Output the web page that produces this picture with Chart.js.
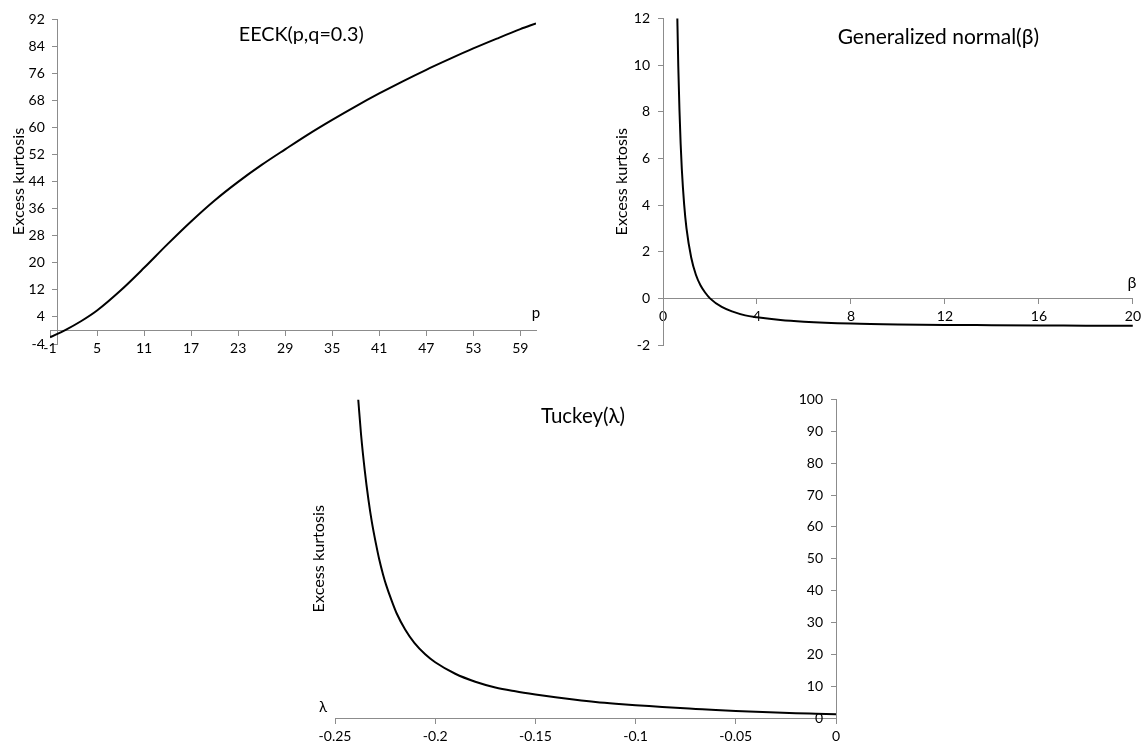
<!DOCTYPE html>
<html><head><meta charset="utf-8">
<script src="https://cdn.jsdelivr.net/npm/chart.js@4"></script>
<style>
html,body{margin:0;padding:0;background:#fff;}
#wrap{position:relative;width:1146px;height:742px;overflow:hidden;background:#fff;}
canvas{position:absolute;left:0;top:0;}
</style></head><body>
<div id="wrap">
<canvas id="c1" width="1146" height="742"></canvas>
<canvas id="c2" width="1146" height="742"></canvas>
<canvas id="c3" width="1146" height="742"></canvas>
</div>
<script>
// ---- EECK(p, q=0.3) ----
const eeckP = [-1, 1, 3, 5, 8, 11, 14, 17, 20, 23, 26, 29, 32, 35, 38, 41, 44, 47, 50, 53, 56, 59, 61];
const eeckKurtosis = [-2.0, 0.2, 2.8, 5.9, 11.8, 18.5, 25.5, 32.2, 38.4, 43.9, 48.9, 53.5, 58.0, 62.2, 66.2, 70.0, 73.6, 77.0, 80.2, 83.3, 86.2, 89.0, 90.7];
const eeckXTicks = [-1, 5, 11, 17, 23, 29, 35, 41, 47, 53, 59];
const eeckYTicks = [-4, 4, 12, 20, 28, 36, 44, 52, 60, 68, 76, 84, 92];

// ---- Generalized normal(beta) ----
const gnBeta = [0.6, 0.65, 0.7, 0.75, 0.8, 0.9, 1.0, 1.2, 1.4, 1.6, 1.8, 2.0, 2.5, 3, 3.5, 4, 5, 6, 8, 10, 12, 14, 16, 18, 20];
const gnKurtosis = [12.57, 9.96, 8.10, 6.65, 5.56, 4.03, 3.0, 1.75, 1.01, 0.55, 0.24, 0, -0.37, -0.58, -0.73, -0.81, -0.93, -1.0, -1.08, -1.12, -1.14, -1.15, -1.16, -1.17, -1.175];
const gnXTicks = [0, 4, 8, 12, 16, 20];
const gnYTicks = [-2, 0, 2, 4, 6, 8, 10, 12];

// ---- Tuckey(lambda) ----
const tukeyLambda = [-0.2384, -0.237, -0.2352, -0.2333, -0.2316, -0.2295, -0.228, -0.226, -0.2245, -0.222, -0.2192, -0.215, -0.2103, -0.205, -0.2, -0.19, -0.18, -0.17, -0.16, -0.15, -0.14, -0.13, -0.12, -0.11, -0.10, -0.09, -0.08, -0.07, -0.06, -0.05, -0.04, -0.03, -0.02, -0.01, 0];
const tukeyKurtosis = [100, 89, 78, 68.5, 61.5, 54.5, 50, 45, 41.8, 37.3, 32.8, 27.8, 23.5, 20.0, 17.5, 13.9, 11.4, 9.6, 8.4, 7.4, 6.5, 5.7, 5.0, 4.45, 4.0, 3.6, 3.2, 2.85, 2.5, 2.2, 1.95, 1.7, 1.5, 1.35, 1.2];
const tukeyXTicks = [-0.25, -0.2, -0.15, -0.1, -0.05, 0];
const tukeyXTickLabels = ['-0.25', '-0.2', '-0.15', '-0.1', '-0.05', '0'];
const tukeyYTicks = [0, 10, 20, 30, 40, 50, 60, 70, 80, 90, 100];

const FONT = 'Lato, "DejaVu Sans", sans-serif';
const AXIS = '#8c8c8c';
const Y_LABEL_GAP = 13;
Chart.defaults.font.family = FONT;
Chart.defaults.color = '#000';

function pts(xs, ys) { return xs.map((x, i) => ({x: x, y: ys[i]})); }
function setTicks(list) { return (scale) => { scale.ticks = list.map(v => ({value: v})); }; }

// move the y-axis tick labels (drawn by the scale) to the left of the axis line
const shiftYLabels = {
  id: 'shiftYLabels',
  beforeDraw(chart) {
    const s = chart.scales.y;
    if (!s || typeof s.getLabelItems !== 'function') return;
    const items = s.getLabelItems();
    if (items._shifted) return;
    items.forEach(it => { it.options.translation[0] -= Y_LABEL_GAP; });
    items._shifted = true;
  }
};

function annot(items) {
  return {
    id: 'annot',
    afterDraw(chart) {
      const {ctx, chartArea: a, scales} = chart;
      for (const it of items) {
        ctx.save();
        ctx.font = it.size + 'px ' + FONT;
        ctx.fillStyle = '#000';
        ctx.textAlign = 'center';
        ctx.textBaseline = 'middle';
        const p = it.at(a, scales);
        ctx.translate(p[0], p[1]);
        if (it.rot) ctx.rotate(-Math.PI / 2);
        ctx.fillText(it.text, 0, 0);
        ctx.restore();
      }
    }
  };
}

function makeChart(id, data, xr, yr, xTicks, yTicks, pad, xLabel, notes) {
  return new Chart(document.getElementById(id), {
    type: 'line',
    data: { datasets: [{ data: data, borderColor: '#000', borderWidth: 2, pointRadius: 0,
      cubicInterpolationMode: 'monotone', fill: false }] },
    options: {
      responsive: false, animation: false, devicePixelRatio: 1,
      layout: { padding: pad },
      plugins: { legend: { display: false }, tooltip: { enabled: false }, title: { display: false } },
      scales: {
        x: {
          type: 'linear', min: xr[0], max: xr[1], position: {y: 0},
          afterBuildTicks: setTicks(xTicks),
          grid: { display: true, drawOnChartArea: false, drawTicks: true, tickLength: 5, tickColor: AXIS },
          border: { display: true, color: AXIS, width: 1 },
          ticks: { font: { size: 14 }, color: '#000', padding: 5, maxRotation: 0, autoSkip: false,
            callback: xLabel || ((v) => String(v)) }
        },
        y: {
          type: 'linear', min: yr[0], max: yr[1], position: {x: 0},
          afterBuildTicks: setTicks(yTicks),
          grid: { display: true, drawOnChartArea: false, drawTicks: true, tickLength: 5, tickColor: AXIS },
          border: { display: true, color: AXIS, width: 1 },
          ticks: { font: { size: 14 }, color: '#000', padding: 8, autoSkip: false,
            callback: (v) => String(v) }
        }
      }
    },
    plugins: [shiftYLabels, annot(notes)]
  });
}

// EECK
makeChart('c1', pts(eeckP, eeckKurtosis), [-1, 61], [-4, 92], eeckXTicks, eeckYTicks,
  {left: 50, top: 19, right: 1146 - 536, bottom: 742 - 344}, null, [
  {text: 'EECK(p,q=0.3)', size: 19.8, at: (a) => [a.left + 0.517 * (a.right - a.left), a.top + 16]},
  {text: 'p', size: 15, at: (a, s) => [a.right, s.y.getPixelForValue(0) - 17]},
  {text: 'Excess kurtosis', size: 16.2, rot: true, at: (a) => [a.left - 31.5, (a.top + a.bottom) / 2]}
]);

// Generalized normal
makeChart('c2', pts(gnBeta, gnKurtosis), [0, 20], [-2, 12], gnXTicks, gnYTicks,
  {left: 663, top: 18.5, right: 1146 - 1139, bottom: 742 - 345}, null, [
  {text: 'Generalized normal(\u03B2)', size: 21, at: (a) => [a.left + 0.586 * (a.right - a.left), a.top + 18.5]},
  {text: '\u03B2', size: 16, at: (a, s) => [a.right - 1, s.y.getPixelForValue(0) - 16]},
  {text: 'Excess kurtosis', size: 16.2, rot: true, at: (a) => [a.left - 41.5, (a.top + a.bottom) / 2]}
]);

// Tuckey
makeChart('c3', pts(tukeyLambda, tukeyKurtosis), [-0.25, 0], [0, 100], tukeyXTicks, tukeyYTicks,
  {left: 335, top: 399.5, right: 1146 - 836, bottom: 742 - 718},
  (v) => { const i = tukeyXTicks.findIndex(t => Math.abs(t - v) < 1e-9); return i >= 0 ? tukeyXTickLabels[i] : ''; }, [
  {text: 'Tuckey(\u03BB)', size: 20.5, at: (a) => [a.left + 0.495 * (a.right - a.left), a.top + 16.5]},
  {text: '\u03BB', size: 15, at: (a) => [a.left - 12, a.bottom - 11]},
  {text: 'Excess kurtosis', size: 16.2, rot: true, at: (a) => [a.left - 16, (a.top + a.bottom) / 2]}
]);
</script>
</body></html>
